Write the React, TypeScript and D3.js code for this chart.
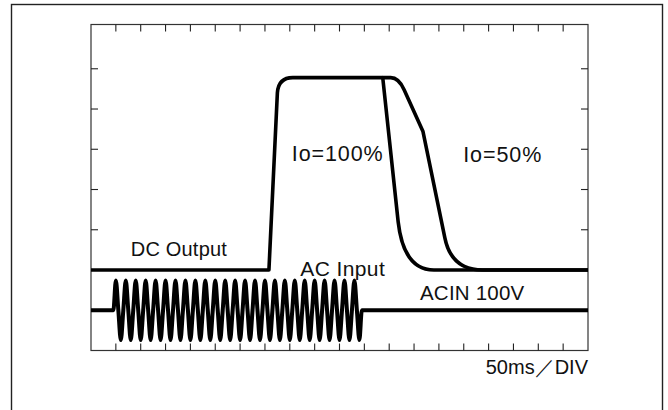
import * as d3 from 'd3'

const width = 668
const height = 410

// x: time in ms (50 ms per division), y: level in divisions
const timeDomain: [number, number] = [0, 1000]
const levelDomain: [number, number] = [0, 8.1]
const xTickValues = d3.range(50, 1000, 50)
const yTickValues = [1, 2, 3, 4, 5, 6, 7]

// DC output traces: [command, ...points] in (ms, div)
type Seg = [string, ...number[]]
const dcLoad100: Seg[] = [
  ['M', 0, 2],
  ['L', 358, 2],
  ['L', 375, 6.4],
  ['Q', 377, 6.78, 406, 6.78],
  ['L', 587, 6.78],
  ['L', 618, 3.2],
  ['Q', 629, 2, 690, 2],
  ['L', 1000, 2],
]
const dcLoad50: Seg[] = [
  ['M', 587, 6.78],
  ['L', 603, 6.78],
  ['Q', 619, 6.78, 630, 6.48],
  ['L', 668, 5.44],
  ['L', 712, 2.8],
  ['Q', 725, 2, 788, 2],
  ['L', 1000, 2],
]

// AC input: 50 Hz bursts between 45 ms and 545 ms
const acLevel = 1
const acAmplitude = 0.74
const acCycleStarts = [
  45, 65, 85, 105, 125, 145, 165, 185, 205, 225, 245, 265, 285, 305, 325,
  345, 365, 385, 405, 425, 445, 465, 485, 505, 525,
]
const acCycleMs = 20
const acOffMs = 545

const labels = [
  { text: 'DC Output', t: 80, v: 2.35, size: 20, spacing: 0.2, anchor: 'start' },
  { text: 'AC Input', t: 421, v: 1.85, size: 21, spacing: 0.4, anchor: 'start' },
  { text: 'Io=100%', t: 404, v: 4.72, size: 21.5, spacing: 0.9, anchor: 'start' },
  { text: 'Io=50%', t: 749, v: 4.68, size: 21.5, spacing: 0.9, anchor: 'start' },
  { text: 'ACIN 100V', t: 662, v: 1.25, size: 20.5, spacing: 0.2, anchor: 'start' },
  { text: '50ms／DIV', t: 1000, v: -0.58, size: 20, spacing: 0, anchor: 'end' },
]

export default function App() {
  const x = d3.scaleLinear(timeDomain, [91, 588])
  const y = d3.scaleLinear(levelDomain, [350.5, 24.5])

  const tracePath = (segs: Seg[]) => {
    const p = d3.path()
    segs.forEach(([cmd, ...n]) => {
      if (cmd === 'M') p.moveTo(x(n[0]), y(n[1]))
      else if (cmd === 'L') p.lineTo(x(n[0]), y(n[1]))
      else p.quadraticCurveTo(x(n[0]), y(n[1]), x(n[2]), y(n[3]))
    })
    return p.toString()
  }

  // points of the AC trace
  const acPoints: [number, number][] = [[0, acLevel]]
  acCycleStarts.forEach((s) => {
    const q = acCycleMs / 4
    acPoints.push([s, acLevel])
    acPoints.push([s + q, acLevel + acAmplitude])
    acPoints.push([s + 2 * q, acLevel])
    acPoints.push([s + 3 * q, acLevel - acAmplitude])
  })
  acPoints.push([acOffMs, acLevel], [1000, acLevel])

  const acLine = d3
    .line<[number, number]>()
    .x((d) => x(d[0]))
    .y((d) => y(d[1]))
    .curve(d3.curveMonotoneX)

  const [x0, x1] = x.range()
  const [yb, yt] = y.range()
  const tick = 7

  return (
    <svg
      width={width}
      height={height}
      style={{ position: 'absolute', left: 0, top: 0, background: '#fff' }}
      fontFamily="'Liberation Sans', Arial, sans-serif"
    >
      {/* outer frame */}
      <rect x={11.5} y={4.5} width={651} height={430} fill="none" stroke="#222" strokeWidth={1.4} />

      {/* plot box */}
      <rect x={x0} y={yt} width={x1 - x0} height={yb - yt} fill="none" stroke="#333" strokeWidth={1.2} />
      <g stroke="#222" strokeWidth={1.1}>
        {xTickValues.map((t) => (
          <g key={t}>
            <line x1={x(t)} x2={x(t)} y1={yt} y2={yt + tick} />
            <line x1={x(t)} x2={x(t)} y1={yb} y2={yb - tick} />
          </g>
        ))}
        {yTickValues.map((v) => (
          <g key={v}>
            <line x1={x0} x2={x0 + tick} y1={y(v)} y2={y(v)} />
            <line x1={x1} x2={x1 - tick} y1={y(v)} y2={y(v)} />
          </g>
        ))}
      </g>

      {/* traces */}
      <path d={acLine(acPoints) ?? ''} fill="none" stroke="#000" strokeWidth={4} strokeLinejoin="round" />
      <path d={tracePath(dcLoad100)} fill="none" stroke="#000" strokeWidth={3.6} strokeLinejoin="round" />
      <path d={tracePath(dcLoad50)} fill="none" stroke="#000" strokeWidth={3.6} strokeLinejoin="round" />

      {/* labels */}
      <g fill="#111">
        {labels.map((l) => (
          <text
            key={l.text}
            x={x(l.t)}
            y={y(l.v)}
            fontSize={l.size}
            letterSpacing={l.spacing}
            textAnchor={l.anchor}
          >
            {l.text}
          </text>
        ))}
      </g>
    </svg>
  )
}
